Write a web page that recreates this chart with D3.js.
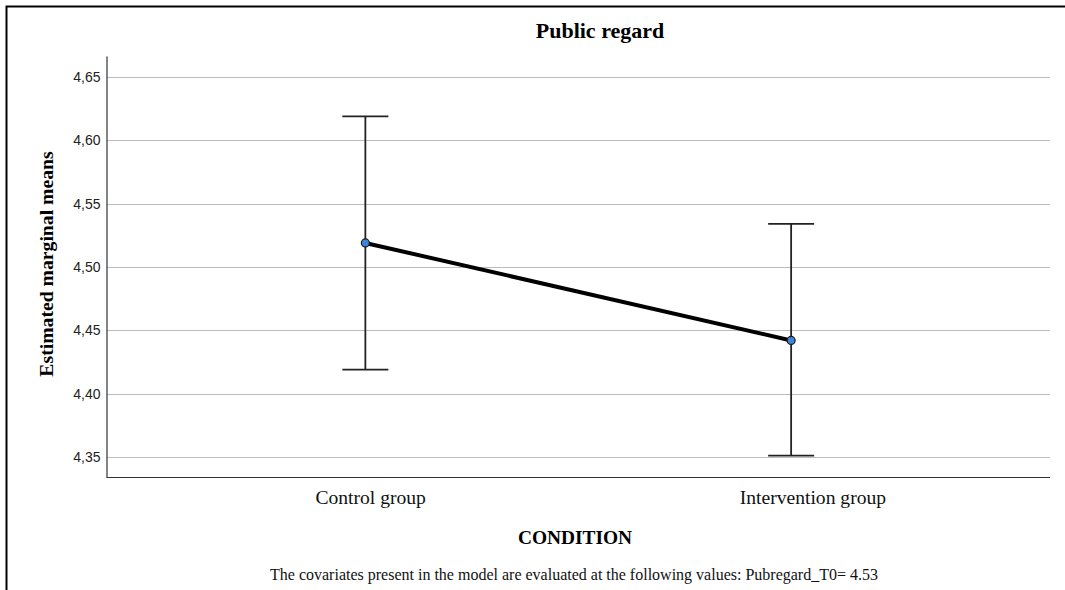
<!DOCTYPE html>
<html>
<head>
<meta charset="utf-8">
<script src="https://cdn.jsdelivr.net/npm/d3@7"></script>
<style>
  html, body { margin: 0; padding: 0; background: #fff; }
  svg { display: block; }
</style>
</head>
<body>
<svg id="chart" width="1065" height="590"></svg>
<script>
// Estimated marginal means by condition, with 95% CI bounds
const categories = ["Control group", "Intervention group"];
const means = [4.519, 4.442];
const lowerCI = [4.419, 4.351];
const upperCI = [4.619, 4.534];
const yTicks = [4.35, 4.40, 4.45, 4.50, 4.55, 4.60, 4.65];

const svg = d3.select("#chart");
const W = 1065, H = 590;
const plot = { left: 106.5, right: 1050, top: 56, bottom: 477 };
const serif = "Liberation Serif, Times New Roman, serif";

// Outer frame (top and left edges)
svg.append("path")
  .attr("d", `M6.5,${H} V6.5 H${W}`)
  .attr("fill", "none")
  .attr("stroke", "#000")
  .attr("stroke-width", 2);

const x = d3.scalePoint()
  .domain(categories)
  .range([plot.left, plot.right])
  .padding(0.608);

// Category labels sit on a slightly wider, right-shifted spacing
const xLabel = d3.scalePoint()
  .domain(categories)
  .range([plot.left + 13, plot.right + 13])
  .padding(0.5667);

const y = d3.scaleLinear()
  .domain([4.3342, 4.6666])
  .range([plot.bottom, plot.top]);

// Horizontal gridlines
svg.append("g")
  .selectAll("line")
  .data(yTicks)
  .join("line")
  .attr("x1", plot.left)
  .attr("x2", plot.right)
  .attr("y1", d => Math.round(y(d)) + 0.5)
  .attr("y2", d => Math.round(y(d)) + 0.5)
  .attr("stroke", "#bdbdbd")
  .attr("stroke-width", 1.2);

// Y axis
const yAxis = svg.append("g")
  .attr("transform", `translate(${plot.left},0)`)
  .call(d3.axisLeft(y)
    .tickValues(yTicks)
    .tickSize(0)
    .tickPadding(6)
    .tickFormat(d => d3.format(".2f")(d).replace(".", ",")));
yAxis.select(".domain").attr("stroke", "#333").attr("stroke-width", 1.2);
yAxis.selectAll("text")
  .attr("font-family", "Liberation Sans, Arial, sans-serif")
  .attr("font-size", 14)
  .attr("fill", "#222");

// X axis
const xAxis = svg.append("g")
  .attr("transform", `translate(0,${plot.bottom + 0.5})`)
  .call(d3.axisBottom(xLabel).tickSize(0).tickPadding(13));
xAxis.select(".domain")
  .attr("d", `M${plot.left},0H${plot.right}`)
  .attr("stroke", "#333").attr("stroke-width", 1.2);
xAxis.selectAll("text")
  .attr("font-family", serif)
  .attr("font-size", 19.6)
  .attr("fill", "#111");

// Error bars
const capHalf = 23;
const bars = svg.append("g");
categories.forEach((c, i) => {
  const cx = x(c);
  bars.append("line")
    .attr("x1", cx).attr("x2", cx)
    .attr("y1", y(upperCI[i])).attr("y2", y(lowerCI[i]))
    .attr("stroke", "#222").attr("stroke-width", 1.8);
  [upperCI[i], lowerCI[i]].forEach(v => {
    bars.append("line")
      .attr("x1", cx - capHalf).attr("x2", cx + capHalf)
      .attr("y1", y(v)).attr("y2", y(v))
      .attr("stroke", "#222").attr("stroke-width", 1.8);
  });
});

// Mean line
svg.append("path")
  .datum(categories.map((c, i) => [x(c), y(means[i])]))
  .attr("d", d3.line())
  .attr("fill", "none")
  .attr("stroke", "#000")
  .attr("stroke-width", 4);

// Mean markers
svg.append("g")
  .selectAll("circle")
  .data(categories)
  .join("circle")
  .attr("cx", d => x(d))
  .attr("cy", (d, i) => y(means[i]))
  .attr("r", 4)
  .attr("fill", "#3d86d6")
  .attr("stroke", "#1a1a1a")
  .attr("stroke-width", 1.2);

// Titles
svg.append("text")
  .attr("x", 600).attr("y", 38)
  .attr("text-anchor", "middle")
  .attr("font-family", serif)
  .attr("font-weight", "bold")
  .attr("font-size", 22)
  .text("Public regard");

svg.append("text")
  .attr("transform", "translate(53,264) rotate(-90)")
  .attr("text-anchor", "middle")
  .attr("font-family", serif)
  .attr("font-weight", "bold")
  .attr("font-size", 19.7)
  .text("Estimated marginal means");

svg.append("text")
  .attr("x", 575).attr("y", 544)
  .attr("text-anchor", "middle")
  .attr("font-family", serif)
  .attr("font-weight", "bold")
  .attr("font-size", 19.4)
  .text("CONDITION");

svg.append("text")
  .attr("x", 574).attr("y", 580)
  .attr("text-anchor", "middle")
  .attr("font-family", serif)
  .attr("font-size", 16)
  .attr("fill", "#111")
  .text("The covariates present in the model are evaluated at the following values: Pubregard_T0= 4.53");
</script>
</body>
</html>
